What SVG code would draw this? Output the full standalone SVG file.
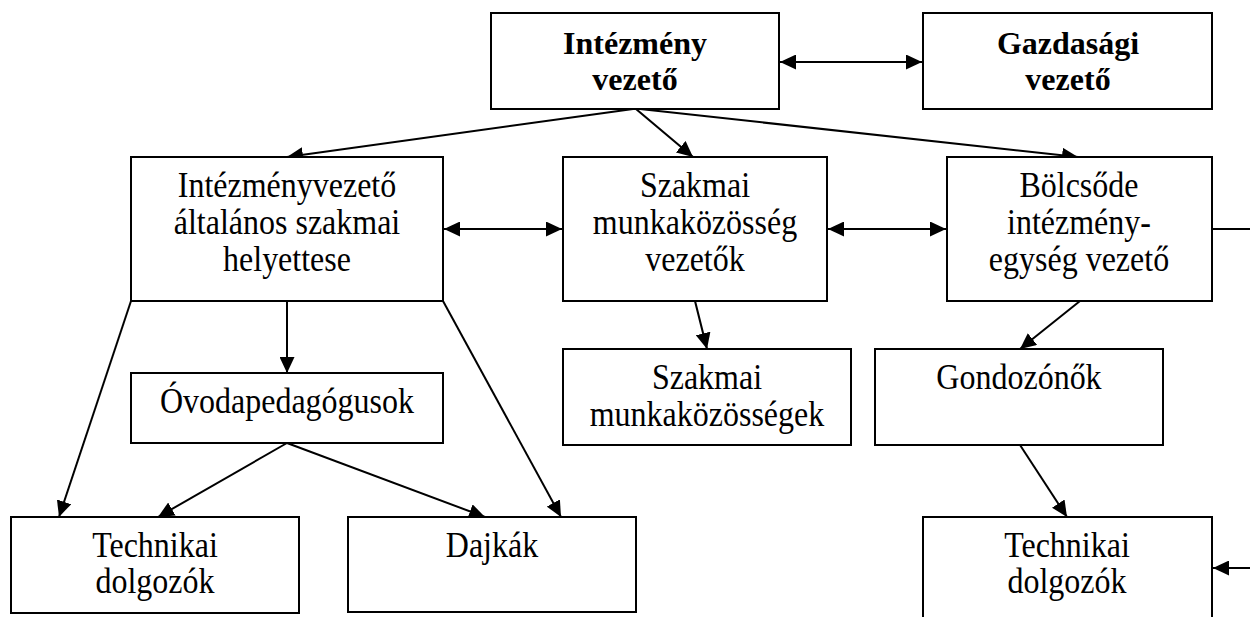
<svg xmlns="http://www.w3.org/2000/svg" width="1250" height="617" viewBox="0 0 1250 617">
<style>
.box{fill:#fff;stroke:#000;stroke-width:2}
.t{font-family:"Liberation Serif","Times New Roman",serif;font-size:32px;fill:#000;text-anchor:middle}
.b{font-weight:bold}
.c{fill:none;stroke:#000;stroke-width:2}
.a{marker-end:url(#ah)}
.d{marker-start:url(#ah);marker-end:url(#ah)}
</style>
<defs>
<marker id="ah" markerUnits="userSpaceOnUse" markerWidth="17" markerHeight="15" refX="16" refY="7.5" orient="auto-start-reverse" viewBox="0 0 17 15">
<path d="M0,0 L16,7.5 L0,15 Z" fill="#000"/>
</marker>
</defs>
<rect width="1250" height="617" fill="#fff"/>
<g id="connectors">
<line class="c d" x1="780" y1="62" x2="922" y2="62"/>
<line class="c a" x1="633" y1="109" x2="287" y2="157"/>
<line class="c a" x1="636" y1="109" x2="693" y2="157"/>
<line class="c a" x1="640" y1="109" x2="1078" y2="157"/>
<line class="c d" x1="444" y1="229" x2="562" y2="229"/>
<line class="c d" x1="828" y1="229" x2="946" y2="229"/>
<line class="c" x1="1212" y1="229" x2="1250" y2="229"/>
<line class="c a" x1="287" y1="301" x2="287" y2="373"/>
<line class="c a" x1="131" y1="301" x2="59" y2="517"/>
<line class="c a" x1="443" y1="301" x2="561" y2="517"/>
<line class="c a" x1="287" y1="443" x2="158" y2="517"/>
<line class="c a" x1="287" y1="443" x2="485" y2="517"/>
<line class="c a" x1="695" y1="301" x2="707" y2="349"/>
<line class="c a" x1="1080" y1="301" x2="1020" y2="349"/>
<line class="c a" x1="1020" y1="445" x2="1067" y2="517"/>
<line class="c a" x1="1250" y1="568" x2="1213" y2="568"/>
</g>
<g id="intezmeny-vezeto">
<rect class="box" x="491" y="13" width="288" height="96"/>
<text class="t b" x="635" y="54">Intézmény</text>
<text class="t b" x="635" y="90">vezető</text>
</g>
<g id="gazdasagi-vezeto">
<rect class="box" x="923" y="13" width="289" height="96"/>
<text class="t b" x="1068" y="54">Gazdasági</text>
<text class="t b" x="1068" y="90">vezető</text>
</g>
<g id="helyettes">
<rect class="box" x="131" y="157" width="312" height="144"/>
<text class="t" x="287" y="197" transform="matrix(1 0 0 1.1 0 -19.7)">Intézményvezető</text>
<text class="t" x="287" y="234" transform="matrix(1 0 0 1.1 0 -23.4)">általános szakmai</text>
<text class="t" x="287" y="271" transform="matrix(1 0 0 1.1 0 -27.1)">helyettese</text>
</g>
<g id="mk-vezetok">
<rect class="box" x="563" y="157" width="264" height="144"/>
<text class="t" x="695" y="197" transform="matrix(1 0 0 1.1 0 -19.7)">Szakmai</text>
<text class="t" x="695" y="234" transform="matrix(1 0 0 1.1 0 -23.4)">munkaközösség</text>
<text class="t" x="695" y="271" transform="matrix(1 0 0 1.1 0 -27.1)">vezetők</text>
</g>
<g id="bolcsode">
<rect class="box" x="947" y="157" width="265" height="144"/>
<text class="t" x="1079" y="197" transform="matrix(1 0 0 1.1 0 -19.7)">Bölcsőde</text>
<text class="t" x="1079" y="234" transform="matrix(1 0 0 1.1 0 -23.4)">intézmény-</text>
<text class="t" x="1079" y="271" transform="matrix(1 0 0 1.1 0 -27.1)">egység vezető</text>
</g>
<g id="ovodapedagogusok">
<rect class="box" x="131" y="373" width="312" height="70"/>
<text class="t" x="287" y="413" transform="matrix(1 0 0 1.1 0 -41.3)">Óvodapedagógusok</text>
</g>
<g id="munkakozossegek">
<rect class="box" x="563" y="349" width="288" height="96"/>
<text class="t" x="707" y="389" transform="matrix(1 0 0 1.1 0 -38.9)">Szakmai</text>
<text class="t" x="707" y="426" transform="matrix(1 0 0 1.1 0 -42.6)">munkaközösségek</text>
</g>
<g id="gondozonok">
<rect class="box" x="875" y="349" width="288" height="96"/>
<text class="t" x="1019" y="389" transform="matrix(1 0 0 1.1 0 -38.9)">Gondozónők</text>
</g>
<g id="technikai-1">
<rect class="box" x="11" y="517" width="288" height="96"/>
<text class="t" x="155" y="557" transform="matrix(1 0 0 1.1 0 -55.7)">Technikai</text>
<text class="t" x="155" y="593" transform="matrix(1 0 0 1.1 0 -59.3)">dolgozók</text>
</g>
<g id="dajkak">
<rect class="box" x="348" y="517" width="288" height="95"/>
<text class="t" x="492" y="557" transform="matrix(1 0 0 1.1 0 -55.7)">Dajkák</text>
</g>
<g id="technikai-2">
<rect class="box" x="923" y="517" width="289" height="130"/>
<text class="t" x="1067" y="557" transform="matrix(1 0 0 1.1 0 -55.7)">Technikai</text>
<text class="t" x="1067" y="593" transform="matrix(1 0 0 1.1 0 -59.3)">dolgozók</text>
</g>
</svg>
